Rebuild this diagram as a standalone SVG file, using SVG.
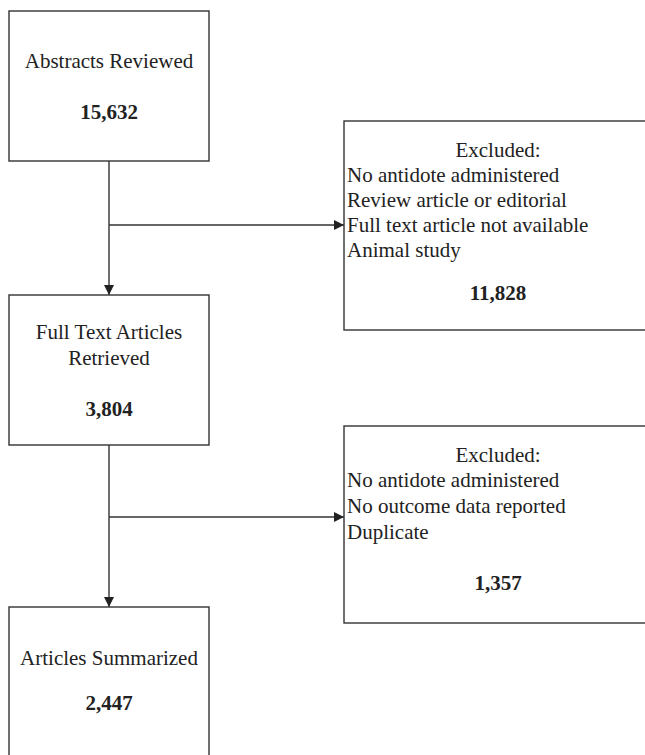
<svg xmlns="http://www.w3.org/2000/svg" width="645" height="755" viewBox="0 0 645 755">
<style>
.box{fill:#fff;stroke:#333;stroke-width:1.4}
.t{font-family:"Liberation Serif","Times New Roman",serif;font-size:21px;fill:#222}
.c{text-anchor:middle}
.b{font-weight:bold}
.ln{stroke:#333;stroke-width:1.4;fill:none}
</style>
<defs>
<marker id="ah" viewBox="0 0 10 10" refX="10" refY="5" markerWidth="10" markerHeight="10" markerUnits="userSpaceOnUse" orient="auto">
<path d="M0,0 L10,5 L0,10 Z" fill="#222"/>
</marker>
</defs>
<rect width="645" height="755" fill="#fff"/>
<g id="connectors">
<line class="ln" x1="109" y1="161" x2="109" y2="295" marker-end="url(#ah)"/>
<line class="ln" x1="109" y1="225" x2="344" y2="225" marker-end="url(#ah)"/>
<line class="ln" x1="109" y1="445" x2="109" y2="607" marker-end="url(#ah)"/>
<line class="ln" x1="109" y1="517" x2="344" y2="517" marker-end="url(#ah)"/>
</g>
<g id="abstracts">
<rect class="box" x="9" y="11" width="200" height="150"/>
<text class="t c" x="109" y="68">Abstracts Reviewed</text>
<text class="t c b" x="109" y="119">15,632</text>
</g>
<g id="excluded1">
<rect class="box" x="344" y="121" width="310" height="209"/>
<text class="t c" x="498" y="157">Excluded:</text>
<text class="t" x="347" y="182">No antidote administered</text>
<text class="t" x="347" y="207">Review article or editorial</text>
<text class="t" x="347" y="232">Full text article not available</text>
<text class="t" x="347" y="257">Animal study</text>
<text class="t c b" x="498" y="300">11,828</text>
</g>
<g id="fulltext">
<rect class="box" x="9" y="295" width="200" height="150"/>
<text class="t c" x="109" y="339">Full Text Articles</text>
<text class="t c" x="109" y="365">Retrieved</text>
<text class="t c b" x="109" y="416">3,804</text>
</g>
<g id="excluded2">
<rect class="box" x="344" y="426" width="310" height="197"/>
<text class="t c" x="498" y="462">Excluded:</text>
<text class="t" x="347" y="487">No antidote administered</text>
<text class="t" x="347" y="513">No outcome data reported</text>
<text class="t" x="347" y="539">Duplicate</text>
<text class="t c b" x="498" y="590">1,357</text>
</g>
<g id="summarized">
<rect class="box" x="9" y="607" width="200" height="160"/>
<text class="t c" x="109" y="665">Articles Summarized</text>
<text class="t c b" x="109" y="710">2,447</text>
</g>
</svg>
